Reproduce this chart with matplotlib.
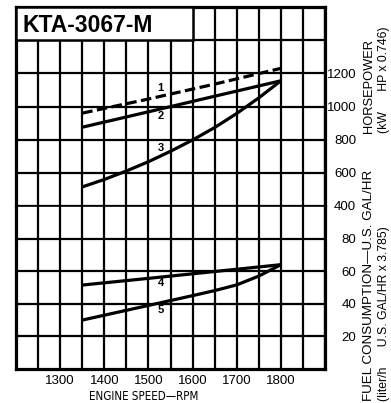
import matplotlib
matplotlib.use("Agg")
import matplotlib.pyplot as plt
from matplotlib import font_manager
from matplotlib.font_manager import FontProperties
from matplotlib.patches import Rectangle

# Engine speed (rpm) sample points for each curve
rpm_straight = [1350, 1500, 1650, 1800]
rpm_curve = [1350, 1400, 1450, 1500, 1550, 1600, 1650, 1700, 1750, 1800]

# Power curves (kW)
power_1 = [960, 1045, 1135, 1230]          # dashed
power_2 = [875, 968, 1062, 1155]
power_3 = [515, 560, 611, 667, 730, 798, 873, 958, 1052, 1155]

# Fuel consumption curves (U.S. gal/hr)
fuel_4 = [51.5, 55.6, 59.8, 64.0]
fuel_5 = [30.0, 33.0, 36.0, 39.0, 42.0, 45.0, 48.1, 51.6, 57.0, 64.0]

# Curve number labels: (rpm, value, text)
power_labels = [(1528, 1110, "1"), (1528, 945, "2"), (1528, 748, "3")]
fuel_labels = [(1528, 52.5, "4"), (1528, 36.0, "5")]

speed_ticks = [1300, 1400, 1500, 1600, 1700, 1800]
power_ticks = [400, 600, 800, 1000, 1200]
fuel_ticks = [20, 40, 60, 80]
grid_rpm = list(range(1200, 1901, 50))

title = "KTA-3067-M"

fonts = font_manager.fontManager.ttflist
available = {f.name for f in fonts}
base_font = "Liberation Sans" if "Liberation Sans" in available else "DejaVu Sans"
plt.rcParams["font.family"] = [base_font, "DejaVu Sans"]

# a condensed sans face for the speed axis title, if one is installed
narrow = None
for f in fonts:
    if ("Narrow" in f.name or "Condensed" in f.name or f.stretch in ("condensed", "semi-condensed")) \
            and f.style == "normal" and f.weight in (400, "normal", "regular"):
        narrow = f
        break

W, H = 391, 403
fig = plt.figure(figsize=(W / 100, H / 100), dpi=100)
fig.patch.set_facecolor("white")

left_px, right_px = 16, 325
top_px, mid_px, bot_px = 7, 206, 369


def box(y_top, y_bot):
    return [left_px / W, (H - y_bot) / H, (right_px - left_px) / W, (y_bot - y_top) / H]


ax_p = fig.add_axes(box(top_px, mid_px))
ax_f = fig.add_axes(box(mid_px, bot_px))

grid_kw = dict(color="black", linewidth=1.6)
line_kw = dict(color="black", linewidth=2.3, zorder=5)

for ax in (ax_p, ax_f):
    ax.set_xlim(1200, 1900)
    ax.set_xticks(speed_ticks)
    ax.set_xticks(grid_rpm, minor=True)
    ax.grid(True, which="both", **grid_kw)
    ax.set_axisbelow(True)
    for s in ax.spines.values():
        s.set_linewidth(2.3)
    ax.yaxis.tick_right()
    ax.tick_params(axis="both", which="both", length=0)
    ax.tick_params(axis="y", labelsize=9.5, pad=22.5)
ax_p.spines["bottom"].set_linewidth(1.2)
ax_f.spines["top"].set_linewidth(1.2)

# Power section
ax_p.set_ylim(400, 1600)
ax_p.set_yticks(power_ticks)
ax_p.set_yticks([1400], minor=True)
ax_p.tick_params(axis="x", labelbottom=False)
ax_p.plot(rpm_straight, power_1, dashes=(3.3, 1.4), dash_capstyle="butt", **line_kw)
ax_p.plot(rpm_straight, power_2, solid_capstyle="butt", **line_kw)
ax_p.plot(rpm_curve, power_3, solid_capstyle="butt", solid_joinstyle="round", **line_kw)
for x, y, t in power_labels:
    ax_p.text(x, y, t, ha="center", va="center", fontsize=8, fontweight="bold", zorder=6)

# Title panel in the top row
ax_p.add_patch(Rectangle((0, 1000 / 1200), 400 / 700, 200 / 1200, transform=ax_p.transAxes,
                         facecolor="white", edgecolor="black", linewidth=1.8, zorder=3))
ax_p.text(7 / 309, (206 - 25) / 199, title, transform=ax_p.transAxes, ha="left", va="center",
          fontsize=16.5, fontweight="bold", zorder=4)

# Fuel section
ax_f.set_ylim(0, 100)
ax_f.set_yticks(fuel_ticks)
ax_f.tick_params(axis="x", labelsize=9.5, pad=4)
ax_f.plot(rpm_straight, fuel_4, solid_capstyle="butt", **line_kw)
ax_f.plot(rpm_curve, fuel_5, solid_capstyle="butt", solid_joinstyle="round", **line_kw)
for x, y, t in fuel_labels:
    ax_f.text(x, y, t, ha="center", va="center", fontsize=8, fontweight="bold", zorder=6)

for ax in (ax_p, ax_f):
    for tk in ax.yaxis.get_major_ticks():
        tk.label2.set_horizontalalignment("right")

# Axis titles
if narrow is not None:
    speed_font = FontProperties(fname=narrow.fname, size=8.3)
else:
    speed_font = FontProperties(family=[base_font, "DejaVu Sans"], size=8)
fig.text(144 / W, (H - 396) / H, "ENGINE SPEED\u2014RPM", ha="center", va="center",
         fontproperties=speed_font)
fig.text(369 / W, (H - 133) / H, "HORSEPOWER", rotation=90, ha="center", va="bottom", fontsize=9.3)
fig.text(384 / W, (H - 133) / H, "(kW      HP x 0.746)", rotation=90, ha="center", va="bottom", fontsize=8.8)
fig.text(369 / W, (H - 401) / H, "FUEL CONSUMPTION\u2014U.S. GAL/HR", rotation=90, ha="center",
         va="bottom", fontsize=9.6)
fig.text(384 / W, (H - 401) / H, "(liter/h      U.S. GAL/HR x 3.785)", rotation=90, ha="center",
         va="bottom", fontsize=8.8)

fig.savefig("out.png", dpi=100, facecolor="white")
